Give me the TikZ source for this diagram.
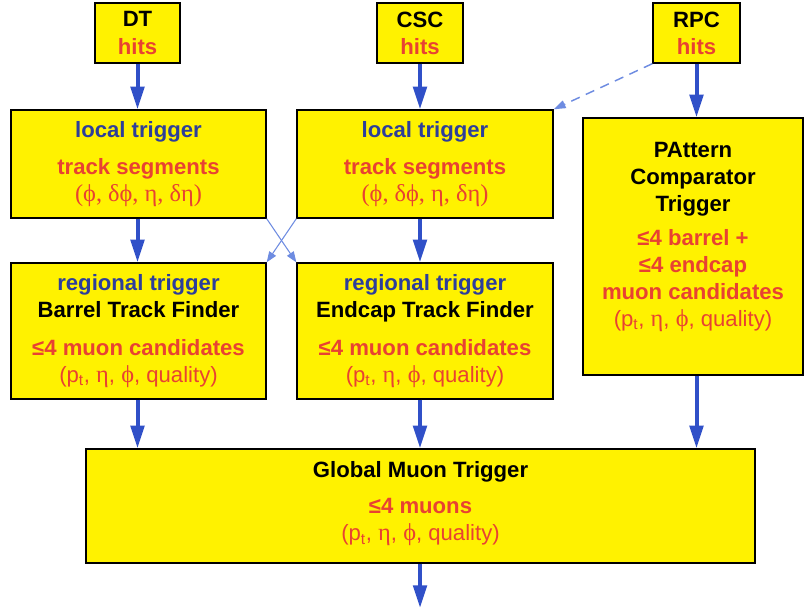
\documentclass[tikz,border=0pt]{standalone}
\usepackage{fontspec}
\usepackage{xcolor}
\usetikzlibrary{arrows.meta}
\setmainfont{Liberation Sans}
\newfontfamily\grkfont[Scale=1.1]{Liberation Serif}

\definecolor{boxyellow}{RGB}{255,242,0}
\definecolor{arrowblue}{RGB}{48,80,200}
\definecolor{thinblue}{RGB}{110,140,225}
\definecolor{txtblue}{RGB}{45,62,155}
\definecolor{txtred}{RGB}{232,66,50}

\newcommand{\bl}[1]{\textcolor{txtblue}{#1}}
\newcommand{\rd}[1]{\textcolor{txtred}{#1}}
\newcommand{\segvars}{\rd{\mdseries\grkfont(ϕ, δϕ, η, δη)}}
\newcommand{\muvars}{\rd{\mdseries(p\textsubscript{t}, {\grkfont η}, {\grkfont ϕ}, quality)}}

\tikzset{
  box/.style={draw=black, line width=1pt, fill=boxyellow, inner sep=0pt,
    align=center, font=\bfseries\fontsize{16.6}{20.3}\selectfont},
  flow/.style={draw=arrowblue, line width=3pt, -{Triangle[length=17pt,width=10pt]}},
  cross/.style={draw=thinblue, line width=0.8pt, -{Triangle[length=8pt,width=6pt]}},
  rpclink/.style={draw=thinblue, line width=1.1pt, dash pattern=on 7pt off 5pt,
    -{Triangle[length=9pt,width=6pt]}}
}

\begin{document}
\begin{tikzpicture}[x=0.75pt,y=0.75pt,yscale=-1,xscale=1]

\useasboundingbox (0,0) rectangle (805,609);

% hit sources
\node[box, minimum width=63.75pt, minimum height=45pt] (dt) at (137.5,33) {DT\\ \rd{hits}};
\node[box, minimum width=64.5pt, minimum height=45pt] (csc) at (420,33) {CSC\\ \rd{hits}};
\node[box, minimum width=65.25pt, minimum height=45pt] (rpc) at (696.5,33) {RPC\\ \rd{hits}};

% local triggers
\node[box, minimum width=191.25pt, minimum height=81pt] (loc1) at (138.5,164)
  {\bl{local trigger}\\[7pt] \rd{track segments}\\ \segvars};
\node[box, minimum width=192pt, minimum height=81pt] (loc2) at (425,164)
  {\bl{local trigger}\\[7pt] \rd{track segments}\\ \segvars};

% RPC pattern comparator
\node[box, minimum width=165pt, minimum height=192.75pt] (pact) at (693,246.5)
  {PAttern\\ Comparator\\ Trigger\\[5pt] \rd{≤4 barrel +}\\ \rd{≤4 endcap}\\
   \rd{muon candidates}\\ \muvars\\[-2pt] \mbox{}};

% regional triggers
\node[box, minimum width=191.25pt, minimum height=102pt] (reg1) at (138.5,331)
  {\bl{regional trigger}\\ Barrel Track Finder\\[8pt] \rd{≤4 muon candidates}\\ \muvars};
\node[box, minimum width=192pt, minimum height=102pt] (reg2) at (425,331)
  {\bl{regional trigger}\\ Endcap Track Finder\\[8pt] \rd{≤4 muon candidates}\\ \muvars};

% global trigger
\node[box, minimum width=501.75pt, minimum height=85.5pt] (gmt) at (420.5,506)
  {Global Muon Trigger\\[7pt] \rd{≤4 muons}\\ \muvars\\[-12.5pt] \mbox{}};
\coordinate (out) at (420,608);

% connections
\draw[flow] (dt) -- (dt |- loc1.north);
\draw[flow] (csc) -- (csc |- loc2.north);
\draw[flow] (rpc) -- (rpc |- pact.north);
\draw[rpclink] (rpc.south west) -- (loc2.north east);

\draw[flow] (dt |- loc1.south) -- (dt |- reg1.north);
\draw[flow] (csc |- loc2.south) -- (csc |- reg2.north);
\draw[cross] (loc1.south east) -- (reg2.north west);
\draw[cross] (loc2.south west) -- (reg1.north east);

\draw[flow] (dt |- reg1.south) -- (dt |- gmt.north);
\draw[flow] (csc |- reg2.south) -- (csc |- gmt.north);
\draw[flow] (rpc |- pact.south) -- (rpc |- gmt.north);
\draw[flow] (gmt.south -| out) -- (out);

\end{tikzpicture}
\end{document}
